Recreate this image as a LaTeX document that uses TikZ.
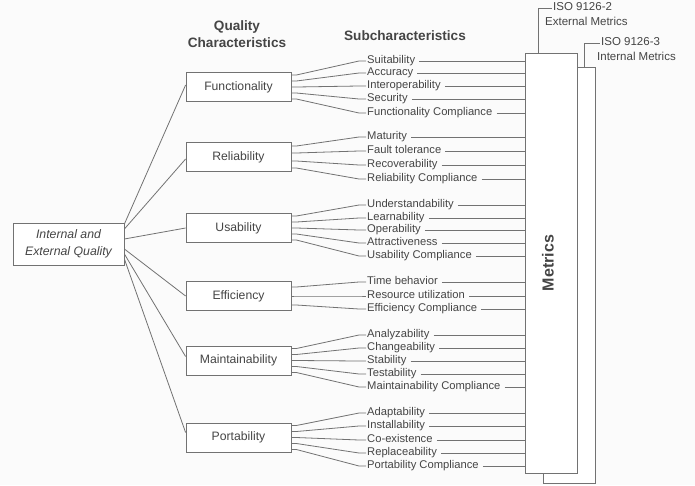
\documentclass[tikz,border=0pt]{standalone}
\usepackage{fontspec}
\setmainfont{Liberation Sans}
\usetikzlibrary{calc}
\definecolor{ln}{HTML}{727272}
\definecolor{tx}{HTML}{454545}
\definecolor{bg}{HTML}{FBFBFB}
\tikzset{
  lw/.style={line width=0.8pt, draw=ln},
  charbox/.style={lw, fill=white, minimum width=105pt, minimum height=29pt, inner sep=0pt, text=tx, font=\fontsize{12.2}{14}\selectfont},
  mainbox/.style={lw, fill=white, minimum width=111pt, minimum height=42pt, inner sep=0pt, text=tx, align=center, font=\fontsize{12.3}{16.5}\selectfont\itshape},
  hdr/.style={text=tx, font=\fontsize{13.6}{16}\selectfont\bfseries, inner sep=0pt},
  lbl/.style={text=tx, font=\fontsize{11.2}{12}\selectfont, inner sep=1pt, text height=7.6pt, text depth=2.2pt, anchor=west},
  isolbl/.style={text=tx, font=\fontsize{11.5}{13}\selectfont, inner sep=1pt, text height=7.8pt, text depth=2.2pt, anchor=west},
  metbox/.style={lw, fill=white, minimum width=52pt, inner sep=0pt, anchor=north west},
  conn/.style={lw}
}
\begin{document}
\begin{tikzpicture}[x=1pt,y=-1pt]
\fill[bg] (0,0) rectangle (695,485);
\useasboundingbox (0,0) rectangle (695,485);

% headers
\node[hdr] (hq) at (237,27) {Quality};
\node[hdr] (hc) at (237,43) {Characteristics};
\node[hdr] (hs) at (405,36) {Subcharacteristics};

% metrics boxes
\node[metbox, minimum height=416pt] (metB) at (543,67) {};
\node[metbox, minimum height=420pt] (metF) at (525,53) {};
\node[text=tx, font=\fontsize{16}{18}\selectfont\bfseries, rotate=90, inner sep=0pt] (mettxt) at (548,263) {Metrics};

% ISO labels
\coordinate (c2) at (538,8);
\node[isolbl] (iso2) at (552,8) {ISO 9126-2};
\node[isolbl] (ext) at (544,23) {External Metrics};
\draw[conn] (c2 |- metF.north) -- (c2) -- (iso2.west);
\coordinate (c3) at (584,43);
\node[isolbl] (iso3) at (600,43) {ISO 9126-3};
\node[isolbl] (int) at (596,58) {Internal Metrics};
\draw[conn] (c3 |- metB.north) -- (c3) -- (iso3.west);

% main box
\node[mainbox] (main) at (68.5,244) {Internal and\\External Quality};

% characteristic boxes
\node[charbox] (F) at (238.5,87) {Functionality};
\node[charbox] (R) at (238.5,157) {Reliability};
\node[charbox] (U) at (238.5,228) {Usability};
\node[charbox] (E) at (238.5,296) {Efficiency};
\node[charbox] (M) at (238.5,360.5) {Maintainability};
\node[charbox] (P) at (238.5,437.5) {Portability};

% main connectors
\draw[conn] ($(main.east)+(0,-20)$) -- ($(F.west)+(0,-2)$);
\draw[conn] ($(main.east)+(0,-15)$) -- ($(R.west)+(0,2)$);
\draw[conn] ($(main.east)+(0,-5)$) -- (U.west);
\draw[conn] ($(main.east)+(0,5)$) -- (E.west);
\draw[conn] ($(main.east)+(0,10)$) -- ($(M.west)+(0,-4)$);
\draw[conn] ($(main.east)+(0,15)$) -- ($(P.west)+(0,-5)$);

% subcharacteristics
\foreach \i/\t/\y/\c/\d in {
 1/Suitability/61/F/-12,
 2/Accuracy/73/F/-6,
 3/Interoperability/86/F/0,
 4/Security/99/F/6,
 5/Functionality Compliance/113/F/12,
 6/Maturity/137/R/-11,
 7/Fault tolerance/151/R/-4,
 8/Recoverability/165/R/4,
 9/Reliability Compliance/179/R/11,
 10/Understandability/205/U/-12,
 11/Learnability/218/U/-6,
 12/Operability/230/U/0,
 13/Attractiveness/243/U/6,
 14/Usability Compliance/256/U/12,
 15/Time behavior/282/E/-9,
 16/Resource utilization/296/E/0,
 17/Efficiency Compliance/309/E/9,
 18/Analyzability/335/M/-12,
 19/Changeability/348/M/-6,
 20/Stability/361/M/0,
 21/Testability/374/M/6,
 22/Maintainability Compliance/387/M/12,
 23/Adaptability/413/P/-12,
 24/Installability/426/P/-6,
 25/Co-existence/440/P/0,
 26/Replaceability/453/P/6,
 27/Portability Compliance/466/P/12}{
  \node[lbl] (s\i) at (366,\y) {\t};
  \draw[conn] ([xshift=3pt]s\i.east) -- (s\i.east -| metF.west);
  \draw[conn] ($(\c.east)+(0,\d)$) -- ++(5,0) -- ($(s\i.west)+(-7,0)$) -- (s\i.west);
}
\end{tikzpicture}
\end{document}
